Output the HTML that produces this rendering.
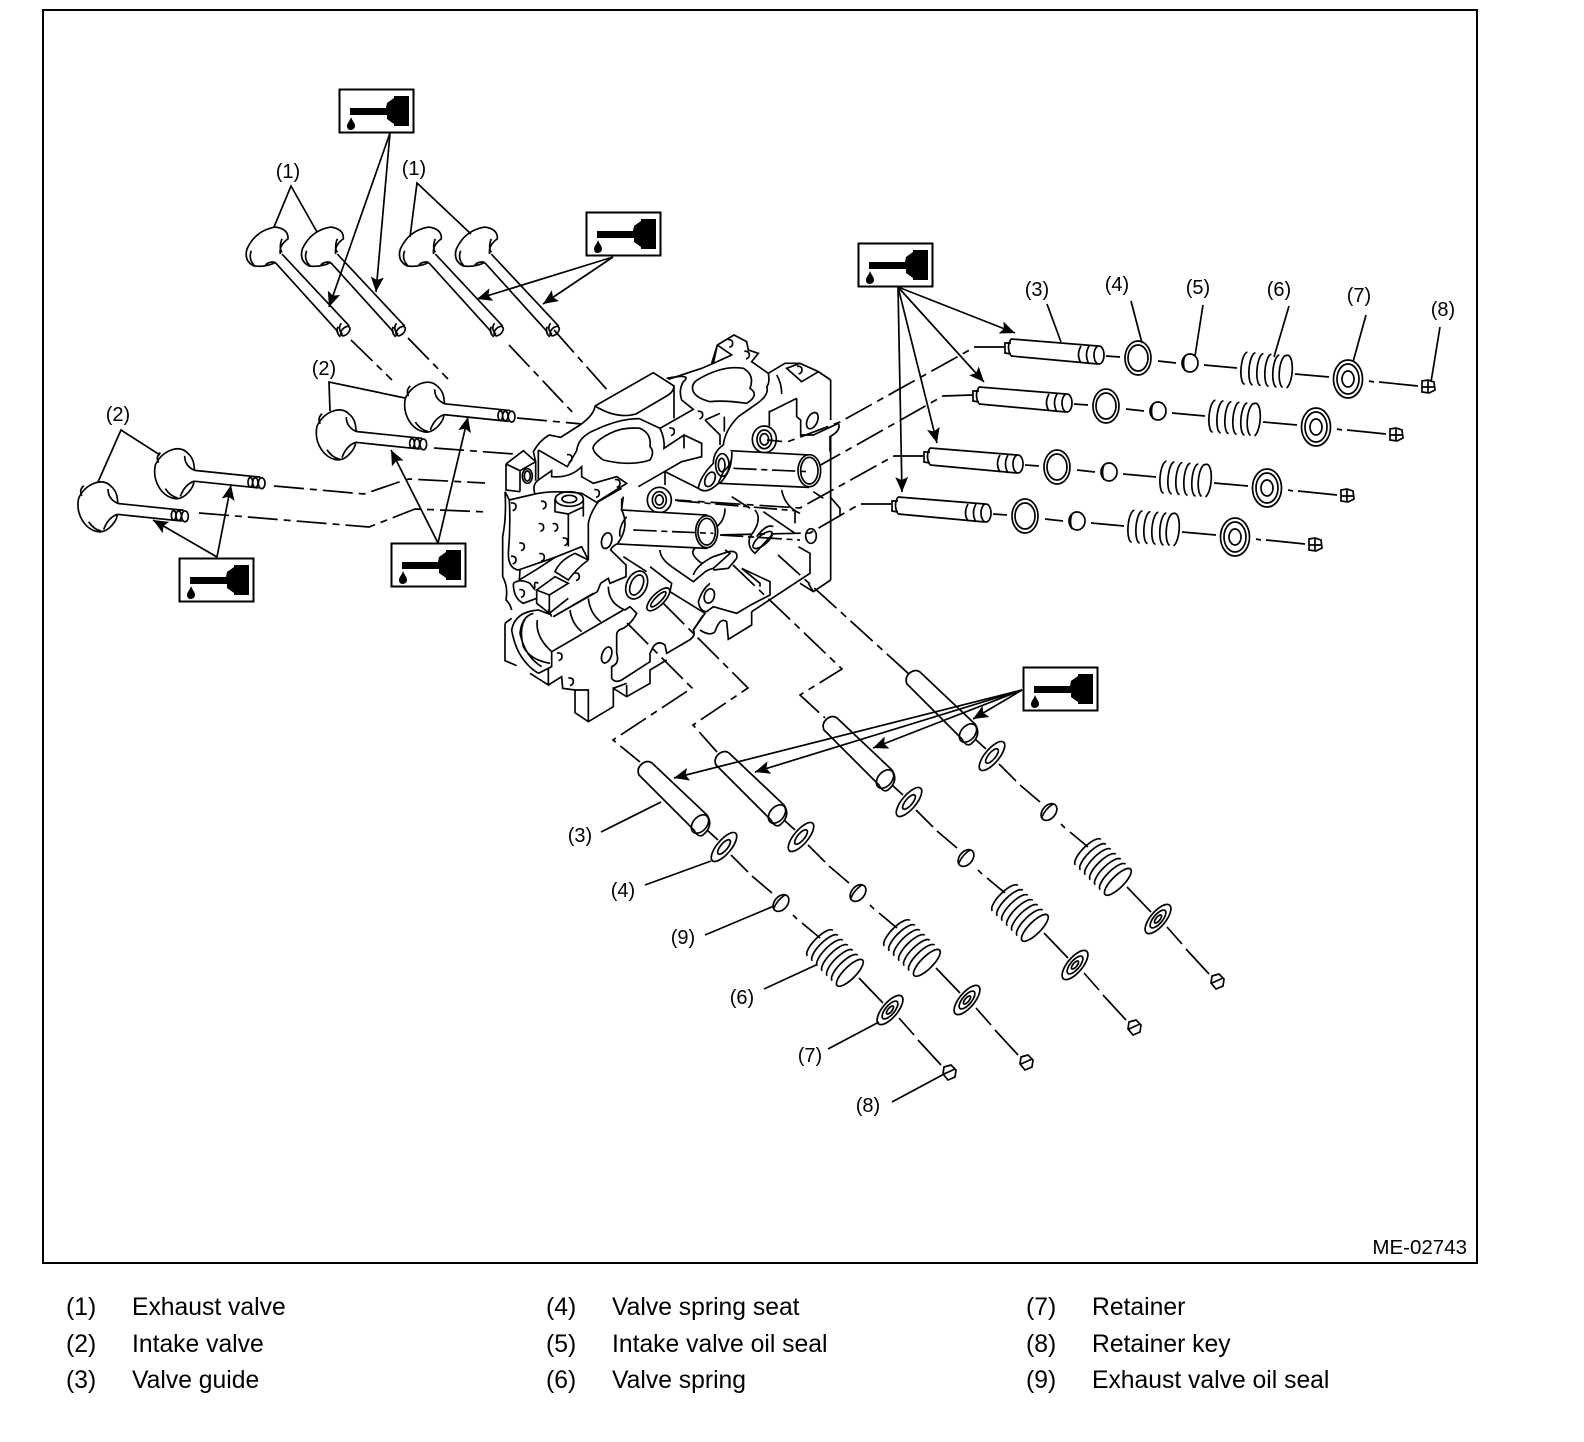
<!DOCTYPE html>
<html><head><meta charset="utf-8"><style>
html,body{margin:0;padding:0;background:#fff}
svg{display:block}
text{font-family:"Liberation Sans",sans-serif;fill:#000}
</style></head><body>
<svg width="1584" height="1442" viewBox="0 0 1584 1442" xmlns="http://www.w3.org/2000/svg">
<defs>
<marker id="ah" markerUnits="userSpaceOnUse" markerWidth="18" markerHeight="14" refX="15" refY="6.5" orient="auto"><path d="M0 0L15 6.5L0 13L3 6.5Z" fill="#000"/></marker>
<path id="hook" d="M-7 -11Q8 -13 8 0Q8 9 -2 12" fill="none"/>
<g id="oil"><rect x="0.5" y="0.5" width="74" height="43" fill="#fff" stroke="#000" stroke-width="2"/><path d="M11 19H47L48 14L55 9V7H70V37H55V35L48 30V26H11Z" fill="#000"/><path d="M12 28C14 33 16 34 16 37C16 40 13 41 11.500 41C9 41 8 39 8 37C8 34 11 32 12 28Z" fill="#000"/></g>
<g id="exh" fill="none">
<path d="M660 515L862 728M640 540L828 745M640 540Q610 555 575 550Q545 535 555 500Q580 445 640 435Q680 440 678 470Q650 490 655 515M660 470Q650 495 660 510M568 505Q558 530 578 550M610 547Q625 535 640 540"/>
<ellipse cx="850" cy="743" rx="10" ry="17" transform="rotate(45 850 743)"/>
<path d="M838 720Q825 735 842 753M828 730Q820 745 835 760"/>
</g>
<g id="int" fill="none">
<path d="M1148 958L1345 978M1146 990L1340 1010M1030 942C1020 990 1050 1040 1095 1042C1120 1040 1145 1010 1146 990M1030 942C1050 900 1100 880 1125 905C1150 925 1145 950 1148 958M1118 915Q1118 945 1148 958M1045 905Q1030 920 1040 935M1060 1012Q1075 1035 1098 1040M1105 1035Q1118 1000 1146 990"/>
<ellipse cx="1349" cy="996" rx="10" ry="16"/><ellipse cx="1330" cy="994" rx="8" ry="14"/><ellipse cx="1315" cy="993" rx="7" ry="14"/>
</g>
<g id="row" fill="none">
<path d="M1011 339L1098 346M1011 356L1098 364M1011 339Q1006 347 1011 356" fill="#fff"/>
<path d="M1011 343H1005V353L1011 354"/>
<ellipse cx="1099" cy="355" rx="5" ry="9"/><path d="M1081 346Q1076 355 1081 363M1089 346Q1084 355 1089 364"/>
<ellipse cx="1138" cy="358" rx="13" ry="17"/><ellipse cx="1138" cy="358" rx="10" ry="13"/>
<ellipse cx="1190" cy="363" rx="8" ry="9"/><path d="M1185 356Q1182 363 1185 371"/>
<g transform="rotate(5 1266 370)"><path d="M1246 354A5 16 0 0 0 1246 386M1254 354A5 16 0 0 0 1254 386M1262 354A5 16 0 0 0 1262 386M1270 354A5 16 0 0 0 1270 386M1278 354A5 16 0 0 0 1278 386"/><path d="M1288 386A5.500 16 0 1 0 1285 354M1286 354A5.500 16 0 0 0 1284 386"/></g>
<ellipse cx="1348" cy="379" rx="14.500" ry="19"/><ellipse cx="1348" cy="379" rx="11" ry="15"/><ellipse cx="1348" cy="379" rx="6" ry="8"/>
<path d="M1422 381L1428 380L1434 382L1435 390L1429 393L1422 392Z"/><path d="M1428 380V393M1422 387H1435"/>
<path d="M1106 356L1120 357M1158 361L1176 363M1204 365L1237 368M1295 374L1329 377M1369 381L1374 382M1379 382L1418 386"/>
</g>
<g id="diag" fill="none">
<path d="M652 763L707 815Q714 826 703 835Q698 838 694 830L639 775Q636 768 643 763Q648 760 652 763Z" fill="#fff"/>
<ellipse cx="700" cy="824" rx="7" ry="10.500" transform="rotate(40 700 824)"/>
<g transform="translate(724 847) rotate(40)"><ellipse rx="7" ry="18"/><ellipse rx="3.500" ry="9"/></g>
<g transform="translate(781 903) rotate(40)"><ellipse rx="6.500" ry="9.500"/><path d="M-2 -9Q-5 0 -2 9"/></g>
<g transform="translate(835 958) rotate(45)"><path d="M-21 -18A6 18 0 0 0 -21 18M-14 -18A6 18 0 0 0 -14 18M-7 -18A6 18 0 0 0 -7 18M0 -18A6 18 0 0 0 0 18M7 -18A6 18 0 0 0 7 18M14 -18A6 18 0 0 0 14 18"/><ellipse cx="21" rx="6" ry="18"/></g>
<g transform="translate(890 1010) rotate(40)"><ellipse rx="7.500" ry="18"/><ellipse rx="4.500" ry="11"/><ellipse rx="2" ry="5"/></g>
<path d="M944 1067L951 1065L956 1070L955 1077L948 1080L943 1074ZM944 1074L955 1069"/>
<path d="M707 830L718 840M731 855L748 872M752 876L772 893M793 915L797 919M802 923L820 938M859 978L883 1003M899 1018L914 1035M918 1040L941 1065"/>
</g>
</defs>
<rect width="1584" height="1442" fill="#fff"/>
<rect x="43" y="10" width="1434" height="1253" fill="none" stroke="#000" stroke-width="2"/>

<g fill="none" stroke="#000" stroke-width="1.700">
<!-- centre lines -->
<g stroke-dasharray="30 6 7 6">
<path d="M351 340L392 380M408 338L448 379M509 345L575 415M554 330L609 392M517 418L582 424M434 448L514 454"/>
<path d="M274 486L342 492L364 494L399 482L409 479L485 483M199 513L369 527L415 509L488 512"/>
<path d="M1004 347L975 347L840 422L787 442L767 440M972 395L943 396L860 443L808 472L740 470M923 456L894 456L800 508L675 500M891 504L860 504L810 533L717 535"/>
<path d="M627 623L692 688L613 740L640 762M663 603L748 688L693 725L717 752M733 565L842 669L800 695L825 718M778 555L910 675"/>
</g>

<!-- cylinder head, traced at 3x -->
<g transform="translate(480 320) scale(.33333)" stroke-width="5">
<path d="M345 258L520 158L582 198Q582 215 560 228L468 282Q410 298 345 258M582 198V295"/>
<path d="M345 258Q342 285 300 315L242 352L208 345Q180 360 160 395L167 425"/>
<path d="M175 390V480M175 390L262 440L290 392Q295 350 345 330Q420 295 478 296L540 325L640 268L605 240Q595 210 610 185Q640 160 560 175"/>
<path d="M340 380Q335 395 370 420Q450 440 510 420Q525 395 510 380Q515 340 480 325Q430 320 390 340Q350 360 340 380Z"/>
<path d="M640 215Q630 190 660 175Q730 135 790 145Q825 165 810 205Q840 225 800 250Q730 240 690 245Q650 235 640 215Z"/>
<path d="M565 178L665 145L700 130L712 75L762 45L800 65L805 90L835 100L815 125L865 160Q870 190 860 200Q870 225 825 255L775 290Q735 330 730 375"/>
<path d="M712 75L695 130M712 75L755 105L700 130M865 160L915 130L960 130L1015 155L1052 180M920 145L960 130L1015 155L965 185ZM890 165Q905 190 905 222"/>
<path d="M675 300L720 280M675 300L720 345V375M733 290V335"/>
<path d="M540 325Q555 355 552 385L612 345V385M612 345L665 370V410L605 425L553 455L475 500M555 455V495"/>
<path d="M175 480L215 452V470Q270 475 305 440V470L340 490L410 470L440 490L352 545"/>
<path d="M78 432L130 392L167 425V482M78 432L120 452L167 425M120 452V515M78 432V510L120 515"/>
<ellipse cx="142" cy="468" rx="15" ry="22"/><ellipse cx="142" cy="468" rx="9" ry="15"/>
<path d="M75 515L88 540L165 522Q155 495 175 480M88 540Q92 620 85 700Q85 745 115 750L225 712L305 680L325 720M68 650Q80 590 75 515M68 650V770Q85 800 78 840Q90 850 95 870M165 522Q220 510 305 520L355 550"/>
<ellipse cx="268" cy="537" rx="42" ry="22"/><ellipse cx="268" cy="537" rx="22" ry="11"/>
<path d="M225 537V575L265 582V680M310 537V590M265 582L312 560M355 545Q330 580 325 610V720M325 720L285 700Q240 720 225 755L265 780Q290 745 325 720M120 750L118 780L175 745L225 712M170 810L225 770L265 790L208 825ZM170 810V850L208 880V825M208 880L265 835"/>
<path d="M100 790Q100 835 130 850L170 835M100 790Q120 775 150 790L165 810M175 790Q160 780 165 805"/>
<path d="M355 545L425 505M425 535V570M410 672Q395 680 392 690L438 735V770L390 790L385 775L362 790L352 815L220 890"/>
<ellipse cx="380" cy="662" rx="15" ry="24" transform="rotate(15 380 662)"/>
<path d="M430 710L500 755M510 740L575 790L570 815L675 880L640 930"/>
<ellipse cx="470" cy="795" rx="30" ry="44" transform="rotate(25 470 795)"/><ellipse cx="470" cy="795" rx="18" ry="32" transform="rotate(25 470 795)"/>
<ellipse cx="535" cy="838" rx="18" ry="45" transform="rotate(45 535 838)"/><ellipse cx="535" cy="838" rx="9" ry="31" transform="rotate(45 535 838)"/>
<path d="M385 800Q385 850 435 870L450 860L470 880Q455 910 430 925Q410 930 410 945V1000Q420 1030 395 1040V1075Q405 1090 425 1080L510 1025V1000L520 980Q535 960 555 975L560 1000L620 965Q650 950 640 930L670 885"/>
<path d="M172 900Q165 950 215 995L430 870M220 890L340 820M270 870Q275 910 305 935M325 835Q330 880 362 905"/>
<path d="M175 870Q105 875 95 930Q110 1020 175 1060M175 870L215 885M205 868L215 890M160 880Q125 890 120 940Q135 1010 185 1040M140 890Q115 920 130 980Q150 1020 210 1030M215 995V1040L175 1060M75 910V1022L110 1037M75 910L95 895M150 1060L205 1095V1045L215 1040"/>
<path d="M205 1095L245 1070L248 1105L285 1110V1178L325 1205L400 1160V1105L440 1130L510 1090V1050L560 1020M285 1110H325V1205M440 1095V1130M400 1105L440 1090"/>
<ellipse cx="380" cy="1005" rx="14" ry="25" transform="rotate(20 380 1005)"/>
<path d="M655 505L555 455M540 690Q540 715 575 740L640 785L670 760Q680 750 700 745L750 700L735 690M640 765Q650 735 700 710L745 695Q775 690 770 715L745 745L700 750M645 685Q625 700 665 730"/>
<path d="M690 790Q665 810 655 845Q660 875 680 875L700 860L770 880L812 855L870 825V785L785 745M785 745L840 790V800"/>
<ellipse cx="688" cy="828" rx="15" ry="22" transform="rotate(15 688 828)"/>
<path d="M705 935Q720 890 740 905L745 958L815 915V875M660 930Q690 950 705 935"/>
<path d="M1000 815L985 790M815 875L990 760V700L955 680M1052 780L1000 815L960 790"/>
<path d="M950 235V290L962 300V345L1000 345L1075 310Q1085 330 1050 350V395M1052 180V300M1052 350V780M870 275L950 235"/>
<ellipse cx="997" cy="302" rx="15" ry="26" transform="rotate(25 997 302)"/>
<path d="M1050 530L1080 565V590M868 272V318"/>
<ellipse cx="853" cy="358" rx="36" ry="40"/><ellipse cx="853" cy="358" rx="22" ry="28"/><ellipse cx="853" cy="358" rx="13" ry="17"/>
<ellipse cx="538" cy="540" rx="36" ry="38"/><ellipse cx="538" cy="540" rx="21" ry="25"/><ellipse cx="538" cy="540" rx="12" ry="15"/>
<!-- small casting marks -->
<use href="#hook" x="100" y="560"/><use href="#hook" x="190" y="555"/><use href="#hook" x="183" y="622"/><use href="#hook" x="225" y="622"/><use href="#hook" x="125" y="680"/><use href="#hook" x="255" y="665"/><use href="#hook" x="185" y="712"/><use href="#hook" x="100" y="720"/><use href="#hook" x="290" y="770"/><use href="#hook" x="125" y="820"/><use href="#hook" x="268" y="415"/><use href="#hook" x="350" y="520"/><use href="#hook" x="412" y="490"/><use href="#hook" x="575" y="335"/><use href="#hook" x="660" y="285"/><use href="#hook" x="800" y="105"/><use href="#hook" x="750" y="70"/><use href="#hook" x="958" y="150"/><use href="#hook" x="238" y="1010"/><use href="#hook" x="272" y="1085"/>
<!-- cylinder 1 -->
<path d="M750 392L990 405L985 502L720 490Q765 440 750 392Z" fill="#fff"/>
<path d="M730 375Q700 395 700 430Q660 470 655 505Q680 525 715 490L730 455Q760 430 755 395" fill="#fff"/>
<ellipse cx="690" cy="478" rx="14" ry="23" transform="rotate(25 690 478)"/>
<ellipse cx="727" cy="435" rx="20" ry="34"/><ellipse cx="725" cy="435" rx="10" ry="20"/>
<path d="M905 510Q915 560 960 580"/>
<ellipse cx="988" cy="452" rx="34" ry="48" fill="#fff"/><ellipse cx="988" cy="452" rx="26" ry="40"/>
<!-- cylinder 2 -->
<path d="M425 570L680 585L680 685L412 672Q450 620 425 570Z" fill="#fff"/>
<path d="M440 590Q415 620 420 650M430 530Q425 565 425 570"/>
<ellipse cx="680" cy="635" rx="33" ry="48" fill="#fff"/><ellipse cx="680" cy="635" rx="26" ry="40"/>
<path d="M755 530L810 565M1000 515L1030 535M825 570Q850 600 810 650Q800 680 825 700L880 640M735 565Q735 600 710 620M880 620Q860 610 830 650M850 575L945 640M945 572V610"/>
<ellipse cx="848" cy="660" rx="14" ry="36" transform="rotate(50 848 660)"/>
<ellipse cx="993" cy="648" rx="16" ry="22"/>
<g stroke-dasharray="70 14 18 14">
<path d="M760 445L985 455M460 630L700 640M590 542L945 572M720 645L960 660"/>
</g>
</g>

<!-- valves, traced at 3x -->
<g transform="translate(62 80) scale(.33333 .338)" stroke-width="5">
<use href="#exh"/><use href="#exh" x="166"/><use href="#exh" x="460"/><use href="#exh" x="628"/>
<use href="#int"/><use href="#int" x="-265" y="82"/><use href="#int" x="-750" y="197"/><use href="#int" x="-980" y="295"/>
</g>

<!-- horizontal guide sets -->
<use href="#row"/><use href="#row" x="-32" y="48"/><use href="#row" x="-81" y="109"/><use href="#row" x="-113" y="158"/>
<!-- diagonal guide sets -->
<use href="#diag"/><use href="#diag" x="77" y="-10"/><use href="#diag" x="185" y="-45"/><use href="#diag" x="268" y="-91"/>

<!-- leaders -->
<path d="M274 227L291 186L317 232M410 237L417 183L471 234M330 411L329 382L405 398M98 482L121 430L160 455"/>
<path d="M1047 304L1061 342M1131 301L1142 343M1203 305L1195 356M1289 306L1274 357M1366 315L1353 362M1440 327L1431 382"/>
<path d="M601 832L661 802M645 885L711 861M705 935L774 906M764 989L816 965M828 1049L879 1022M892 1102L946 1073"/>

<!-- arrows -->
<g marker-end="url(#ah)">
<path d="M390 133L329 307"/><path d="M390 133L376 292"/>
<path d="M613 257L477 299"/><path d="M613 257L543 304"/>
<path d="M898 287L1015 333"/><path d="M898 287L984 382"/><path d="M898 287L937 443"/><path d="M898 287L902 492"/>
<path d="M1022 690L973 719"/><path d="M1022 690L873 748"/><path d="M1022 690L755 772"/><path d="M1022 690L674 778"/>
<path d="M438 543L391 450"/><path d="M438 543L468 417"/>
<path d="M217 557L153 520"/><path d="M217 557L231 485"/>
</g>
</g>

<use href="#oil" x="339" y="89"/><use href="#oil" x="586" y="212"/><use href="#oil" x="858" y="243"/><use href="#oil" x="1023" y="667"/><use href="#oil" x="391" y="543"/><use href="#oil" x="179" y="558"/>

<g font-size="20" text-anchor="middle">
<text x="288" y="178">(1)</text><text x="414" y="175">(1)</text><text x="324" y="375">(2)</text><text x="118" y="421">(2)</text>
<text x="1037" y="296">(3)</text><text x="1117" y="291">(4)</text><text x="1198" y="294">(5)</text><text x="1279" y="296">(6)</text><text x="1359" y="302">(7)</text><text x="1443" y="316">(8)</text>
<text x="580" y="842">(3)</text><text x="623" y="897">(4)</text><text x="683" y="944">(9)</text><text x="742" y="1004">(6)</text><text x="810" y="1062">(7)</text><text x="868" y="1112">(8)</text>
</g>
<text x="1467" y="1254" font-size="20.500" text-anchor="end">ME-02743</text>
<g font-size="24.700">
<text x="66" y="1315">(1)</text><text x="132" y="1315">Exhaust valve</text>
<text x="66" y="1352">(2)</text><text x="132" y="1352">Intake valve</text>
<text x="66" y="1388">(3)</text><text x="132" y="1388">Valve guide</text>
<text x="546" y="1315">(4)</text><text x="612" y="1315">Valve spring seat</text>
<text x="546" y="1352">(5)</text><text x="612" y="1352">Intake valve oil seal</text>
<text x="546" y="1388">(6)</text><text x="612" y="1388">Valve spring</text>
<text x="1026" y="1315">(7)</text><text x="1092" y="1315">Retainer</text>
<text x="1026" y="1352">(8)</text><text x="1092" y="1352">Retainer key</text>
<text x="1026" y="1388">(9)</text><text x="1092" y="1388">Exhaust valve oil seal</text>
</g>
</svg>
</body></html>
